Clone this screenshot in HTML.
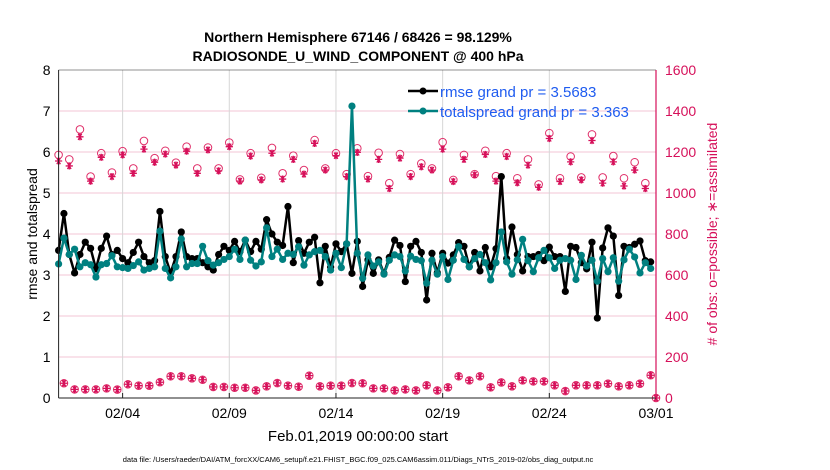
<!DOCTYPE html>
<html><head><meta charset="utf-8">
<style>
body{margin:0;background:#fff;}
svg{display:block;font-family:"Liberation Sans",sans-serif;}
</style></head>
<body>
<svg id="chart" width="830" height="470" viewBox="0 0 830 470">
<g id="grid"></g>
<g id="obs"></g>
<g id="lines"></g>
<g id="axes"></g>
<text x="358" y="42" text-anchor="middle" font-size="14" font-weight="bold">Northern Hemisphere 67146 / 68426 = 98.129%</text>
<text x="358" y="61" text-anchor="middle" font-size="14" font-weight="bold">RADIOSONDE_U_WIND_COMPONENT @ 400 hPa</text>
<text transform="translate(37,234) rotate(-90)" text-anchor="middle" font-size="14">rmse and totalspread</text>
<text transform="translate(717,234) rotate(-90)" text-anchor="middle" font-size="14" fill="#d6105a"># of obs: o=possible; ∗=assimilated</text>
<text x="358" y="441" text-anchor="middle" font-size="15">Feb.01,2019 00:00:00 start</text>
<text x="358" y="462" text-anchor="middle" font-size="7.5">data file: /Users/raeder/DAI/ATM_forcXX/CAM6_setup/f.e21.FHIST_BGC.f09_025.CAM6assim.011/Diags_NTrS_2019-02/obs_diag_output.nc</text>
<g>
<line x1="408" y1="91" x2="438" y2="91" stroke="#000" stroke-width="2.5"/>
<circle cx="423" cy="91" r="3.5" fill="#000"/>
<text x="440" y="97" font-size="15" fill="#1f5cf0">rmse grand pr = 3.5683</text>
<line x1="408" y1="111" x2="438" y2="111" stroke="#008080" stroke-width="2.5"/>
<circle cx="423" cy="111" r="3.5" fill="#008080"/>
<text x="440" y="117" font-size="15" fill="#1f5cf0">totalspread grand pr = 3.363</text>
</g>
</svg>
<script>
const rmse = [3.6,4.5,3.5,3.05,3.5,3.8,3.65,3.15,3.65,3.95,3.5,3.6,3.4,3.3,3.55,3.8,3.45,3.3,3.35,4.55,3.45,3.05,3.45,4.05,3.45,3.4,3.4,3.3,3.2,
3.12,3.5,3.7,3.6,3.82,3.57,3.85,3.57,3.82,3.63,4.35,4.0,3.8,3.72,4.67,3.3,3.84,3.53,3.8,3.92,2.81,3.7,3.19,3.76,3.57,3.76,3.04,3.82,
2.72,3.37,3.04,3.37,3.04,3.43,3.85,3.72,2.84,3.7,3.82,3.55,2.39,3.53,3.06,3.53,3.29,3.49,3.79,3.7,3.2,3.55,3.1,3.67,3.2,3.64,5.4,
3.4,4.17,3.5,3.1,3.45,3.45,3.5,3.35,3.68,3.45,3.45,2.6,3.7,3.67,3.3,3.15,3.8,1.95,3.66,4.15,3.95,2.5,3.7,3.67,3.75,3.83,3.35,3.32];
const spread = [3.27,3.9,3.5,3.63,3.2,3.3,3.25,2.95,3.25,3.28,3.47,3.2,3.18,3.16,3.23,3.32,3.12,3.16,3.2,4.07,3.16,2.93,3.2,3.88,3.2,3.28,3.28,3.7,3.35,
3.24,3.3,3.38,3.45,3.63,3.38,3.85,3.36,3.22,3.32,4.15,3.45,3.63,3.38,3.53,3.5,3.69,3.24,3.49,3.57,3.6,3.45,3.12,3.53,3.18,3.76,7.12,3.53,
2.92,3.49,3.22,3.32,3.02,3.36,3.49,3.45,3.1,3.46,3.38,3.35,2.8,3.36,3.02,3.45,2.89,3.36,3.69,3.38,3.2,3.4,3.5,3.3,2.88,3.3,4.05,
3.32,3.02,3.37,3.87,3.35,3.08,3.42,3.6,3.42,3.16,3.36,3.4,3.36,2.89,3.48,3.22,3.36,2.85,3.4,3.08,3.42,2.85,3.37,3.63,3.44,3.05,3.3,3.16];
const possible = [1186,72,1164,42,1310,42,1080,42,1194,47,1100,41,1204,67,1120,60,1254,60,1170,77,1206,106,1148,106,1226,96,1120,89,1222,
54,1120,54,1246,50,1066,50,1194,37,1074,57,1220,73,1096,60,1182,55,1112,109,1258,57,1120,60,1194,60,1092,73,1218,
72,1082,47,1196,47,1048,37,1190,42,1092,37,1144,62,1120,37,1248,52,1064,106,1186,86,1092,106,1206,52,1082,76,
1194,57,1072,86,1164,81,1042,81,1292,62,1072,34,1178,62,1076,62,1286,62,1076,70,1180,57,1072,62,1150,70,1048,111,0];
const assimilated = [1156,72,1132,42,1274,42,1058,42,1174,47,1080,41,1186,67,1096,60,1214,60,1150,77,1190,106,1136,106,1204,96,1096,89,1210,
54,1108,54,1226,50,1058,50,1180,37,1064,57,1194,73,1068,60,1164,55,1092,109,1242,57,1112,60,1182,60,1080,73,1198,
72,1068,47,1164,47,1022,37,1170,42,1080,37,1128,62,1112,37,1214,52,1056,106,1164,86,1088,106,1188,52,1058,76,
1178,57,1050,86,1136,81,1028,81,1266,62,1056,34,1152,62,1064,62,1256,62,1048,70,1152,57,1034,62,1112,70,1022,111,0];
const xTickDays = [3,8,13,18,23,28];
const xTickLabels = ["02/04","02/09","02/14","02/19","02/24","03/01"];
const yTicks = [0,1,2,3,4,5,6,7,8];
const y2Ticks = [0,200,400,600,800,1000,1200,1400,1600];

const NS="http://www.w3.org/2000/svg";
const L=58.6,R=656,T=70,B=398;
const xDay=d=>L+(R-L)*d/28;
const xStep=i=>xDay(i*0.25);
const yL=v=>B-(B-T)*v/8;
const yR=v=>B-(B-T)*v/1600;
function mk(tag,attrs,parent){const e=document.createElementNS(NS,tag);for(const k in attrs)e.setAttribute(k,attrs[k]);parent.appendChild(e);return e;}
const grid=document.getElementById('grid'),axes=document.getElementById('axes'),lines=document.getElementById('lines'),obs=document.getElementById('obs');

y2Ticks.forEach(v=>{
  if(v>0&&v<1600){const g=mk('line',{x1:L,x2:R,y1:yR(v),y2:yR(v),stroke:'#f3c6d6','stroke-width':1},grid);
  
  }
  const t=mk('text',{x:R+9,y:yR(v)+5,'font-size':14,fill:'#d6105a'},axes);t.textContent=v;
  
  
});
xTickDays.forEach((d,k)=>{
  if(d<28){const g=mk('line',{x1:xDay(d),x2:xDay(d),y1:T,y2:B,stroke:'#d6d6d6','stroke-width':1},grid);
  
  }
  const tk=mk('line',{x1:xDay(d),x2:xDay(d),y1:B,y2:B-5,stroke:'#222'},axes);
  
  
  const t=mk('text',{x:xDay(d),y:B+20,'font-size':14,'text-anchor':'middle'},axes);t.textContent=xTickLabels[k];
  
  
});
yTicks.forEach(v=>{
  const t=mk('text',{x:L-8,y:yL(v)+5,'font-size':14,'text-anchor':'end'},axes);t.textContent=v;
  
  
});
const la=mk('line',{x1:L,x2:L,y1:T,y2:B,stroke:'#222','stroke-width':1},axes);


const ba=mk('line',{x1:L,x2:R,y1:B,y2:B,stroke:'#222','stroke-width':1},axes);


const ta=mk('line',{x1:L,x2:R,y1:T,y2:T,stroke:'#222','stroke-width':0.6},axes);


const ra=mk('line',{x1:R,x2:R,y1:T,y2:B,stroke:'#d6105a','stroke-width':1.2},axes);



possible.forEach((v,i)=>{
  const c=mk('circle',{cx:xStep(i),cy:yR(v),r:3.8,fill:'none',stroke:'#e0306a','stroke-width':1},obs);
  
  
});
assimilated.forEach((v,i)=>{
  const cx=xStep(i),cy=yR(v),r=3.6;
  const d=`M${cx-r},${cy}L${cx+r},${cy}M${cx-r*0.5},${cy-r*0.87}L${cx+r*0.5},${cy+r*0.87}M${cx+r*0.5},${cy-r*0.87}L${cx-r*0.5},${cy+r*0.87}M${cx},${cy-r}L${cx},${cy+r}`;
  const p=mk('path',{d:d,stroke:'#d6105a','stroke-width':1.3,fill:'none'},obs);
  
  
});

function series(vals,color,name){
  const p=mk('polyline',{points:vals.map((v,i)=>xStep(i)+','+yL(v)).join(' '),fill:'none',stroke:color,'stroke-width':2.5,'stroke-linejoin':'round'},lines);
  
  
  vals.forEach((v,i)=>{
    const c=mk('circle',{cx:xStep(i),cy:yL(v),r:3.6,fill:color},lines);
    
    
  });
}
series(rmse,'#000','rmse');
series(spread,'#008080','totalspread');
</script>
</body></html>
